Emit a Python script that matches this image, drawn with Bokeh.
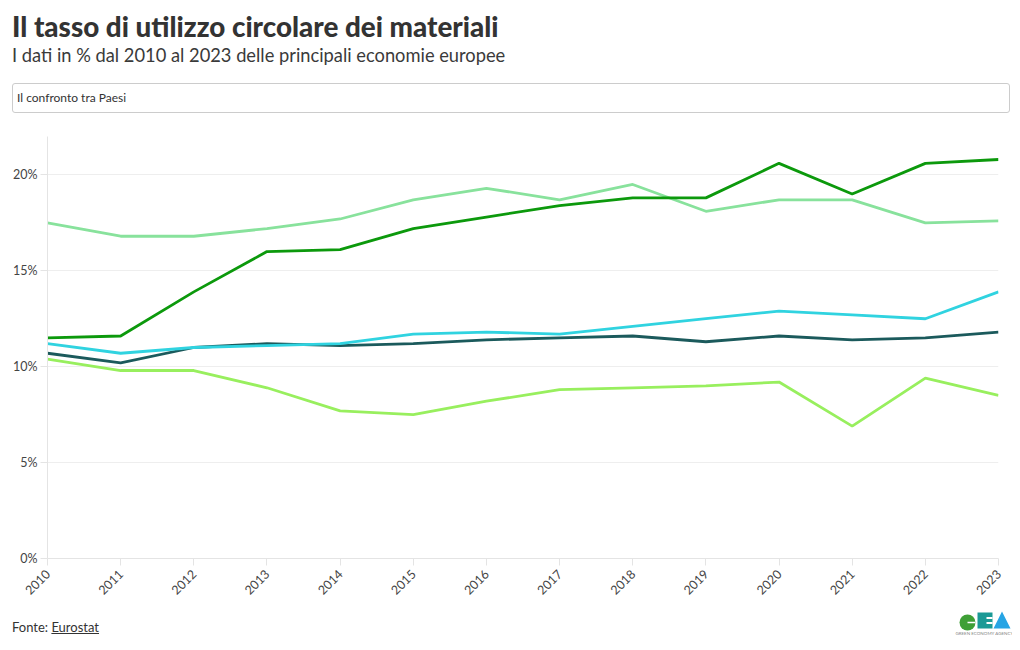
import math
from bokeh.plotting import figure
from bokeh.models import Div, FixedTicker, PrintfTickFormatter, Range1d, Label
from bokeh.layouts import column, row
from bokeh.embed import file_html
from bokeh.resources import INLINE

years = list(range(2010, 2024))
italia = [11.5, 11.6, 13.9, 16.0, 16.1, 17.2, 17.8, 18.4, 18.8, 18.8, 20.6, 19.0, 20.6, 20.8]
francia = [17.5, 16.8, 16.8, 17.2, 17.7, 18.7, 19.3, 18.7, 19.5, 18.1, 18.7, 18.7, 17.5, 17.6]
germania = [11.2, 10.7, 11.0, 11.1, 11.2, 11.7, 11.8, 11.7, 12.1, 12.5, 12.9, 12.7, 12.5, 13.9]
ue27 = [10.7, 10.2, 11.0, 11.2, 11.1, 11.2, 11.4, 11.5, 11.6, 11.3, 11.6, 11.4, 11.5, 11.8]
spagna = [10.4, 9.8, 9.8, 8.9, 7.7, 7.5, 8.2, 8.8, 8.9, 9.0, 9.2, 6.9, 9.4, 8.5]
y_ticks = [0, 5, 10, 15, 20]

series = [
    ("Spagna", spagna, "#98ef5e"),
    ("UE27", ue27, "#1b5a5c"),
    ("Germania", germania, "#30d3e0"),
    ("Francia", francia, "#88e29c"),
    ("Italia", italia, "#0c990c"),
]

FONT = "Lato"

header = Div(
    width=1004, height=120, margin=0,
    text=(
        '<div style="position:relative;width:1004px;height:120px;font-family:Lato,sans-serif;color:#333;">'
        '<div style="position:absolute;left:4px;top:4px;font-size:27.8px;line-height:30px;font-weight:900;white-space:nowrap;">'
        'Il tasso di utilizzo circolare dei materiali</div>'
        '<div style="position:absolute;left:4px;top:36px;font-size:18.3px;line-height:22px;white-space:nowrap;color:#3a3a3a;">'
        'I dati in % dal 2010 al 2023 delle principali economie europee</div>'
        '<div style="position:absolute;left:4px;top:75px;width:996px;height:28px;border:1px solid #cccccc;border-radius:3px;'
        'box-sizing:content-box;">'
        '<div style="position:absolute;left:4px;top:6px;font-size:12px;line-height:16px;color:#333;white-space:nowrap;">'
        'Il confronto tra Paesi</div></div>'
        '</div>'
    ),
)

p = figure(
    width=1004, height=474, output_backend="svg", toolbar_location=None,
    x_range=Range1d(2010, 2023), y_range=Range1d(0, 22),
    min_border_left=39, min_border_right=14, min_border_top=8, min_border_bottom=44,
    margin=0,
)
p.outline_line_color = None
p.background_fill_color = "white"
p.border_fill_color = "white"

for name, vals, col in series:
    p.line(years, vals, line_color=col, line_width=2.8)

p.xaxis.ticker = FixedTicker(ticks=years)
p.yaxis.ticker = FixedTicker(ticks=y_ticks)
p.yaxis.formatter = PrintfTickFormatter(format="%d%%")
p.xaxis.major_label_orientation = math.pi / 4

for ax in (p.xaxis, p.yaxis):
    ax.axis_line_color = "#e4e4e4"
    ax.major_tick_line_color = "#e4e4e4"
    ax.minor_tick_line_color = None
    ax.major_tick_in = 0
    ax.major_tick_out = 7
    ax.major_label_text_font = FONT
    ax.major_label_text_font_size = "12.5px"
    ax.major_label_text_color = "#444444"
    ax.major_label_standoff = 3
p.xaxis.major_label_standoff = 6

p.xgrid.grid_line_color = None
p.ygrid.grid_line_color = "#eeeeee"

footer = Div(
    width=930, height=44, margin=0,
    text=(
        '<div style="font-family:Lato,sans-serif;font-size:13px;line-height:16px;color:#333;padding:17px 0 0 4px;">'
        'Fonte: <span style="text-decoration:underline;">Eurostat</span></div>'
    ),
)

logo = figure(width=74, height=44, output_backend="svg", toolbar_location=None,
              x_range=Range1d(0, 74), y_range=Range1d(0, 44),
              min_border=0, margin=0)
logo.axis.visible = False
logo.grid.visible = False
logo.outline_line_color = None
logo.circle(x=[29], y=[24], radius=8, fill_color="#3f9f36", line_color=None)
logo.segment(x0=[29], y0=[24], x1=[37], y1=[24], line_color="white", line_width=1.5)
logo.quad(left=[39], right=[54], bottom=[18], top=[34], fill_color="#1b9a96", line_color=None)
logo.quad(left=[48, 48], right=[54, 54], bottom=[22.5, 27.5], top=[24.5, 29.5], fill_color="white", line_color=None)
logo.patch(x=[55, 63.5, 72], y=[18, 35, 18], fill_color="#26a4e4", line_color=None)
logo.add_layout(Label(x=46, y=13, text="GREEN ECONOMY AGENCY", text_font=FONT,
                      text_font_size="4.5px", text_color="#888888", text_align="center",
                      text_baseline="middle"))

layout = column(header, p, row(footer, logo, margin=0, spacing=0), margin=(8, 0, 0, 8), spacing=0)

open("out.html", "w").write(file_html(layout, INLINE))
